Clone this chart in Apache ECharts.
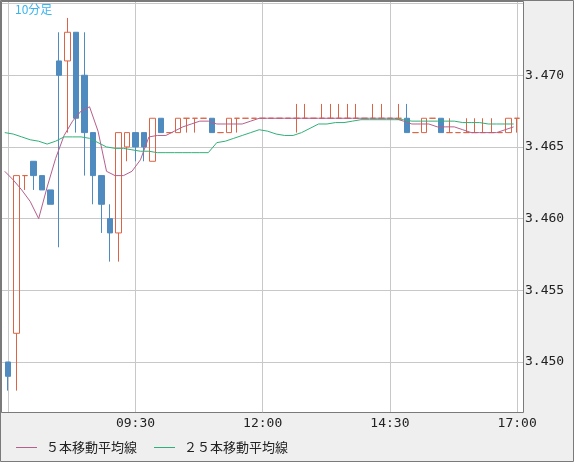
<!DOCTYPE html>
<html>
<head>
<meta charset="utf-8">
<script src="https://cdn.jsdelivr.net/npm/echarts@6/dist/echarts.min.js"></script>
<style>
html, body { margin: 0; padding: 0; background: #efefef; }
#chart { width: 574px; height: 462px; }
</style>
</head>
<body>
<div id="chart"></div>
<script>
// 10分足 07:00 - 17:00
var times = [
    '07:00','07:10','07:20','07:30','07:40','07:50',
    '08:00','08:10','08:20','08:30','08:40','08:50',
    '09:00','09:10','09:20','09:30','09:40','09:50',
    '10:00','10:10','10:20','10:30','10:40','10:50',
    '11:00','11:10','11:20','11:30','11:40','11:50',
    '12:00','12:10','12:20','12:30','12:40','12:50',
    '13:00','13:10','13:20','13:30','13:40','13:50',
    '14:00','14:10','14:20','14:30','14:40','14:50',
    '15:00','15:10','15:20','15:30','15:40','15:50',
    '16:00','16:10','16:20','16:30','16:40','16:50',
    '17:00'
];
var opens = [
    3.450, 3.452, 3.463, 3.464, 3.463, 3.462, 3.471, 3.471, 3.473, 3.470,
    3.466, 3.463, 3.460, 3.459, 3.465, 3.466, 3.466, 3.464, 3.467, 3.466,
    3.466, 3.467, 3.467, 3.467, 3.467, 3.466, 3.466, 3.467, 3.467, 3.467,
    3.467, 3.467, 3.467, 3.467, 3.467, 3.467, 3.467, 3.467, 3.467, 3.467,
    3.467, 3.467, 3.467, 3.467, 3.467, 3.467, 3.467, 3.467, 3.466, 3.466,
    3.467, 3.467, 3.466, 3.466, 3.466, 3.466, 3.466, 3.466, 3.466, 3.466,
    3.467
];
var closes = [
    3.449, 3.463, 3.463, 3.463, 3.462, 3.461, 3.470, 3.473, 3.467, 3.466,
    3.463, 3.461, 3.459, 3.466, 3.466, 3.465, 3.465, 3.467, 3.466, 3.466,
    3.467, 3.467, 3.467, 3.467, 3.466, 3.466, 3.467, 3.467, 3.467, 3.467,
    3.467, 3.467, 3.467, 3.467, 3.467, 3.467, 3.467, 3.467, 3.467, 3.467,
    3.467, 3.467, 3.467, 3.467, 3.467, 3.467, 3.467, 3.466, 3.466, 3.467,
    3.467, 3.466, 3.466, 3.466, 3.466, 3.466, 3.466, 3.466, 3.466, 3.467,
    3.467
];
var lows = [
    3.448, 3.448, 3.462, 3.462, 3.462, 3.461, 3.458, 3.466, 3.466, 3.463,
    3.461, 3.459, 3.457, 3.457, 3.464, 3.464, 3.464, 3.464, 3.466, 3.466,
    3.466, 3.466, 3.466, 3.467, 3.466, 3.466, 3.466, 3.466, 3.467, 3.467,
    3.467, 3.467, 3.467, 3.467, 3.466, 3.467, 3.467, 3.467, 3.467, 3.467,
    3.467, 3.467, 3.467, 3.467, 3.467, 3.467, 3.467, 3.466, 3.466, 3.466,
    3.467, 3.466, 3.466, 3.466, 3.466, 3.466, 3.466, 3.466, 3.466, 3.466,
    3.466
];
var highs = [
    3.450, 3.463, 3.463, 3.464, 3.463, 3.462, 3.473, 3.474, 3.473, 3.473,
    3.466, 3.463, 3.461, 3.466, 3.466, 3.466, 3.466, 3.467, 3.467, 3.466,
    3.467, 3.467, 3.467, 3.467, 3.467, 3.466, 3.467, 3.467, 3.467, 3.467,
    3.467, 3.467, 3.467, 3.467, 3.468, 3.468, 3.467, 3.468, 3.468, 3.468,
    3.468, 3.468, 3.467, 3.468, 3.468, 3.467, 3.468, 3.468, 3.466, 3.467,
    3.467, 3.467, 3.467, 3.466, 3.467, 3.467, 3.467, 3.467, 3.466, 3.467,
    3.467
];
// 5本移動平均線
var ma5 = [
    3.4633, 3.4627, 3.4620, 3.4612, 3.4600, 3.4622, 3.4642, 3.4658, 3.4668, 3.4675,
    3.4678, 3.4661, 3.4633, 3.4630, 3.4630, 3.4633, 3.4641, 3.4657, 3.4658, 3.4658,
    3.4661, 3.4664, 3.4666, 3.4668, 3.4668, 3.4666, 3.4666, 3.4666, 3.4666, 3.4668,
    3.4670, 3.4670, 3.4670, 3.4670, 3.4670, 3.4670, 3.4670, 3.4670, 3.4670, 3.4670,
    3.4670, 3.4670, 3.4670, 3.4670, 3.4670, 3.4670, 3.4670, 3.4668, 3.4666, 3.4666,
    3.4666, 3.4664, 3.4664, 3.4664, 3.4662, 3.4660, 3.4660, 3.4660, 3.4660, 3.4662,
    3.4664
];
// 25本移動平均線
var ma25 = [
    3.4660, 3.4659, 3.4657, 3.4655, 3.4654, 3.4652, 3.4654, 3.4657, 3.4657, 3.4657,
    3.4656, 3.4653, 3.4650, 3.4649, 3.4649, 3.4648, 3.4647, 3.4647, 3.4646, 3.4646,
    3.4646, 3.4646, 3.4646, 3.4646, 3.4646, 3.4653, 3.4654, 3.4656, 3.4658, 3.4660,
    3.4662, 3.4661, 3.4659, 3.4658, 3.4658, 3.4660, 3.4663, 3.4666, 3.4666, 3.4667,
    3.4667, 3.4668, 3.4669, 3.4669, 3.4669, 3.4669, 3.4669, 3.4669, 3.4668, 3.4668,
    3.4668, 3.4668, 3.4668, 3.4668, 3.4667, 3.4667, 3.4667, 3.4666, 3.4666, 3.4666,
    3.4666
];

var candles = opens.map(function(o, i) {
    return [o, closes[i], lows[i], highs[i]];
});

var yMin = 3.44651, yMax = 3.47518;
var monoFont = 'DejaVu Sans Mono';
var jpFont = 'Noto Sans CJK JP';
var upColor = '#dc6446', downColor = '#4f8bbf';
var ma5Color = '#b45f8c', ma25Color = '#30b078';

var option = {
    animation: false,
    backgroundColor: '#efefef',
    title: {
        text: '10分足',
        left: 15,
        top: 3,
        padding: 0,
        textStyle: { fontFamily: jpFont, fontSize: 12, fontWeight: 'normal', color: '#3ab4ee' }
    },
    legend: {
        left: 16,
        top: 441,
        padding: 0,
        itemGap: 17,
        itemWidth: 21,
        itemHeight: 1,
        icon: 'rect',
        textStyle: { fontFamily: jpFont, fontSize: 13, color: '#222', padding: [0, 0, 0, 4] },
        data: ['５本移動平均線', '２５本移動平均線']
    },
    grid: [
        // frame / background
        { left: 1, top: 1, width: 522, height: 411, show: true, backgroundColor: '#fff', borderWidth: 0,
          containLabel: false, outerBoundsMode: 'none' },
        // candles
        { left: 8.24, top: 1, width: 508.9, height: 411, containLabel: false, outerBoundsMode: 'none' },
        // moving averages
        { left: 4.74, top: 1, width: 508.9, height: 411, containLabel: false, outerBoundsMode: 'none' }
    ],
    xAxis: [
        { gridIndex: 0, type: 'value', show: false, min: 0, max: 1 },
        {
            gridIndex: 1,
            type: 'category',
            data: times,
            boundaryGap: false,
            axisLine: { show: false },
            axisTick: { show: false },
            axisLabel: {
                interval: function(idx) { return idx > 0 && idx % 15 === 0; },
                margin: 5,
                fontFamily: monoFont,
                fontSize: 13,
                color: '#222'
            },
            splitLine: {
                show: true,
                interval: function(idx) { return idx % 15 === 0; },
                lineStyle: { color: '#c8c8c8', width: 1 }
            }
        },
        { gridIndex: 2, type: 'category', data: times, boundaryGap: false, show: false }
    ],
    yAxis: [
        {
            gridIndex: 0,
            type: 'value',
            position: 'right',
            min: yMin,
            max: yMax,
            minInterval: 0.005,
            maxInterval: 0.005,
            splitNumber: 6,
            axisLine: { show: false },
            axisTick: { show: false },
            axisLabel: {
                margin: 2,
                fontFamily: monoFont,
                fontSize: 13,
                color: '#222',
                formatter: function(v) {
                    if (v > 3.4725 || v < 3.4475) return '';
                    return v.toFixed(3);
                }
            },
            splitLine: { show: true, lineStyle: { color: '#c8c8c8', width: 1 } }
        },
        { gridIndex: 1, type: 'value', min: yMin, max: yMax, show: false },
        { gridIndex: 2, type: 'value', min: yMin, max: yMax, show: false }
    ],
    graphic: [
        {
            type: 'rect', silent: true, z: 100,
            shape: { x: 1.5, y: 1.5, width: 522, height: 411 },
            style: { fill: null, stroke: '#7a7a7a', lineWidth: 1 }
        },
        {
            type: 'rect', silent: true, z: 100,
            shape: { x: 0.5, y: 0.5, width: 573, height: 461 },
            style: { fill: null, stroke: '#7a7a7a', lineWidth: 1 }
        }
    ],
    series: [
        {
            type: 'candlestick',
            xAxisIndex: 1,
            yAxisIndex: 1,
            data: candles,
            barWidth: 6,
            clip: false,
            itemStyle: {
                color: 'transparent',
                color0: downColor,
                borderColor: upColor,
                borderColor0: downColor,
                borderColorDoji: upColor,
                borderWidth: 1
            }
        },
        {
            name: '５本移動平均線',
            type: 'line',
            xAxisIndex: 2,
            yAxisIndex: 2,
            data: ma5,
            symbol: 'none',
            z: 3,
            lineStyle: { color: ma5Color, width: 1 },
            itemStyle: { color: ma5Color }
        },
        {
            name: '２５本移動平均線',
            type: 'line',
            xAxisIndex: 2,
            yAxisIndex: 2,
            data: ma25,
            symbol: 'none',
            z: 3,
            lineStyle: { color: ma25Color, width: 1 },
            itemStyle: { color: ma25Color }
        }
    ]
};

var chart = echarts.init(document.getElementById('chart'));
chart.setOption(option);
</script>
</body>
</html>
